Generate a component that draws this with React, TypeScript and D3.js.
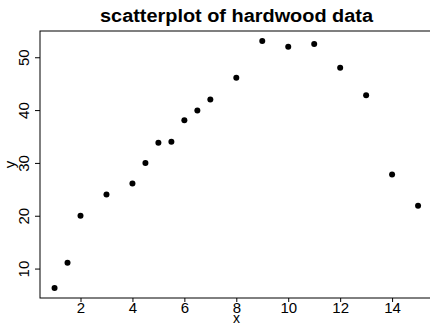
import { useEffect, useRef } from 'react'
import * as d3 from 'd3'

// hardwood concentration vs tensile strength
const xValues = [1, 1.5, 2, 3, 4, 4.5, 5, 5.5, 6, 6.5, 7, 8, 9, 10, 11, 12, 13, 14, 15]
const yValues = [6.3, 11.1, 20.0, 24.0, 26.1, 30.0, 33.8, 34.0, 38.1, 39.9, 42.0, 46.1, 53.1, 52.0, 52.5, 48.0, 42.8, 27.8, 21.9]
const xTicks = [2, 4, 6, 8, 10, 12, 14]
const yTicks = [10, 20, 30, 40, 50]

const width = 430
const height = 328
const font = '"Liberation Sans", Arial, sans-serif'

export default function App() {
  const svgRef = useRef<SVGSVGElement>(null)

  useEffect(() => {
    if (!svgRef.current) return
    const svg = d3.select(svgRef.current)
    svg.selectAll('*').remove()

    const left = 40
    const right = 432.6
    const top = 31
    const bottom = 298

    // R-style 4% padding on both ranges
    const [x0, x1] = d3.extent(xValues) as [number, number]
    const [y0, y1] = d3.extent(yValues) as [number, number]
    const xPad = (x1 - x0) * 0.04
    const yPad = (y1 - y0) * 0.04

    const xScale = d3.scaleLinear().domain([x0 - xPad, x1 + xPad]).range([left, right])
    const yScale = d3.scaleLinear().domain([y0 - yPad, y1 + yPad]).range([bottom, top])

    svg
      .append('rect')
      .attr('x', left)
      .attr('y', top)
      .attr('width', right - left)
      .attr('height', bottom - top)
      .attr('fill', 'none')
      .attr('stroke', '#000')
      .attr('stroke-width', 1)

    // X axis
    const xAxis = svg
      .append('g')
      .attr('transform', `translate(0,${bottom})`)
      .call(d3.axisBottom(xScale).tickValues(xTicks).tickSize(4).tickPadding(0).tickFormat(d3.format('d')))
    xAxis.select('.domain').remove()
    xAxis.selectAll('line').attr('stroke', '#000')
    xAxis
      .selectAll('text')
      .attr('fill', '#000')
      .attr('font-family', font)
      .attr('font-size', '15px')

    // Y axis, labels rotated like R's default
    const yAxis = svg
      .append('g')
      .attr('transform', `translate(${left},0)`)
      .call(d3.axisLeft(yScale).tickValues(yTicks).tickSize(5).tickFormat(d3.format('d')))
    yAxis.select('.domain').remove()
    yAxis.selectAll('line').attr('stroke', '#000')
    yAxis
      .selectAll('text')
      .attr('fill', '#000')
      .attr('font-family', font)
      .attr('font-size', '15px')
      .attr('x', null)
      .attr('dy', null)
      .attr('text-anchor', 'middle')
      .attr('transform', 'translate(-11,0) rotate(-90)')

    // Points
    svg
      .append('g')
      .selectAll('circle')
      .data(xValues.map((x, i) => ({ x, y: yValues[i] })))
      .enter()
      .append('circle')
      .attr('cx', (d) => xScale(d.x))
      .attr('cy', (d) => yScale(d.y))
      .attr('r', 3)
      .attr('fill', '#000')

    // Title and axis labels
    svg
      .append('text')
      .attr('x', 100)
      .attr('y', 21.5)
      .attr('font-family', font)
      .attr('font-weight', 'bold')
      .attr('font-size', '18px')
      .attr('textLength', 273)
      .attr('lengthAdjust', 'spacingAndGlyphs')
      .text('scatterplot of hardwood data')

    svg
      .append('text')
      .attr('x', 236.5)
      .attr('y', 323)
      .attr('text-anchor', 'middle')
      .attr('font-family', font)
      .attr('font-size', '14px')
      .text('x')

    svg
      .append('text')
      .attr('transform', `translate(15,${(top + bottom) / 2}) rotate(-90)`)
      .attr('text-anchor', 'middle')
      .attr('font-family', font)
      .attr('font-size', '15px')
      .text('y')
  }, [])

  return (
    <div style={{ position: 'fixed', left: 0, top: 0, background: '#fff' }}>
      <svg ref={svgRef} width={width} height={height} style={{ display: 'block' }} />
    </div>
  )
}
